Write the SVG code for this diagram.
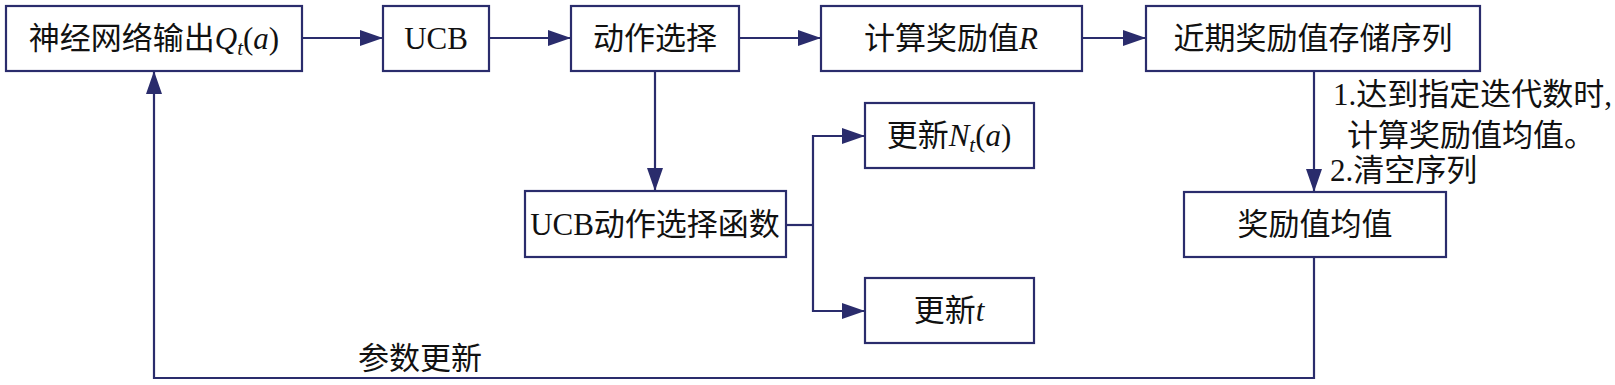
<svg xmlns="http://www.w3.org/2000/svg" width="1615" height="385" viewBox="0 0 1615 385">
<style>
.box{fill:#fff;stroke:#2a2c6c;stroke-width:2.2}
.ln{fill:none;stroke:#2a2c6c;stroke-width:2.2}
text{font-family:"Liberation Serif","Noto Sans CJK SC",serif;font-size:31px;fill:#111}
.c{text-anchor:middle}
.i{font-style:italic}
</style>
<defs>
<marker id="ah" markerUnits="userSpaceOnUse" markerWidth="24" markerHeight="18" refX="23" refY="8" orient="auto">
<path d="M0,0 L23,8 L0,16 Z" fill="#2a2c6c"/>
</marker>
</defs>
<rect width="1615" height="385" fill="#fff"/>
<g id="connectors">
<line class="ln" x1="302" y1="38" x2="383" y2="38" marker-end="url(#ah)"/>
<line class="ln" x1="489" y1="38" x2="571" y2="38" marker-end="url(#ah)"/>
<line class="ln" x1="739" y1="38" x2="821" y2="38" marker-end="url(#ah)"/>
<line class="ln" x1="1082" y1="38" x2="1146" y2="38" marker-end="url(#ah)"/>
<line class="ln" x1="655" y1="71" x2="655" y2="191" marker-end="url(#ah)"/>
<polyline class="ln" points="786,225 813,225"/>
<polyline class="ln" points="813,225 813,136 865,136" marker-end="url(#ah)"/>
<polyline class="ln" points="813,225 813,311 865,311" marker-end="url(#ah)"/>
<line class="ln" x1="1314" y1="71" x2="1314" y2="192" marker-end="url(#ah)"/>
<polyline class="ln" points="1314,257 1314,378 154,378 154,71" marker-end="url(#ah)"/>
<text x="358" y="369">参数更新</text>
<text x="1333" y="105">1.达到指定迭代数时,</text>
<text x="1347" y="146">计算奖励值均值。</text>
<text x="1330" y="181">2.清空序列</text>
</g>
<g id="n-qt">
<rect class="box" x="6" y="6" width="296" height="65"/>
<text class="c" x="154" y="49">神经网络输出<tspan class="i">Q</tspan><tspan class="i" font-size="21" dy="6">t</tspan><tspan dy="-6">(</tspan><tspan class="i">a</tspan>)</text>
</g>
<g id="n-ucb">
<rect class="box" x="383" y="6" width="106" height="65"/>
<text class="c" x="436" y="49">UCB</text>
</g>
<g id="n-select">
<rect class="box" x="571" y="6" width="168" height="65"/>
<text class="c" x="655" y="49">动作选择</text>
</g>
<g id="n-reward">
<rect class="box" x="821" y="6" width="261" height="65"/>
<text class="c" x="951" y="49">计算奖励值<tspan class="i">R</tspan></text>
</g>
<g id="n-store">
<rect class="box" x="1146" y="6" width="334" height="65"/>
<text class="c" x="1313" y="49">近期奖励值存储序列</text>
</g>
<g id="n-ucbfunc">
<rect class="box" x="525" y="191" width="261" height="66"/>
<text class="c" x="655" y="235">UCB动作选择函数</text>
</g>
<g id="n-nt">
<rect class="box" x="865" y="103" width="169" height="65"/>
<text class="c" x="949" y="146">更新<tspan class="i">N</tspan><tspan class="i" font-size="21" dy="6">t</tspan><tspan dy="-6">(</tspan><tspan class="i">a</tspan>)</text>
</g>
<g id="n-t">
<rect class="box" x="865" y="278" width="169" height="65"/>
<text class="c" x="949" y="321">更新<tspan class="i">t</tspan></text>
</g>
<g id="n-mean">
<rect class="box" x="1184" y="192" width="262" height="65"/>
<text class="c" x="1315" y="235">奖励值均值</text>
</g>
</svg>
